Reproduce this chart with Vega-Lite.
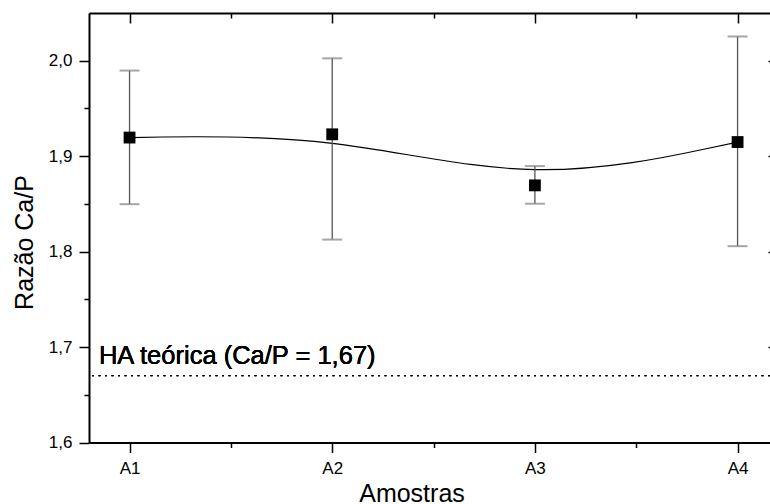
{
  "$schema": "https://vega.github.io/schema/vega-lite/v6.json",
  "autosize": {"type": "none"},
  "padding": {"left": 89, "top": 13, "right": 0, "bottom": 61.5},
  "width": 681,
  "height": 429.5,
  "background": "white",
  "config": {
    "view": {"stroke": null},
    "font": "Liberation Sans",
    "axis": {"grid": false, "domainColor": "black", "tickColor": "black", "labelColor": "black", "titleColor": "black", "labelFont": "Liberation Sans", "titleFont": "Liberation Sans", "titleFontWeight": "normal"}
  },
  "data": {
    "values": [
      {"amostra": 1, "razao": 1.9195, "lo": 1.8497, "hi": 1.9897},
      {"amostra": 2, "razao": 1.9229, "lo": 1.8126, "hi": 2.0025},
      {"amostra": 3, "razao": 1.8694, "lo": 1.8502, "hi": 1.8896},
      {"amostra": 4, "razao": 1.9148, "lo": 1.8057, "hi": 2.0254}
    ]
  },
  "resolve": {"axis": {"x": "independent", "y": "independent"}},
  "layer": [
    {
      "mark": {"type": "rule", "color": "black", "strokeWidth": 1, "strokeDash": [2, 4.5]},
      "encoding": {
        "y": {"datum": 1.67, "type": "quantitative", "scale": {"domain": [1.6, 2.05]}, "axis": null}
      }
    },
    {
      "mark": {"type": "line", "interpolate": "basis", "color": "black", "strokeWidth": 1.2},
      "encoding": {
        "x": {"field": "amostra", "type": "quantitative", "scale": {"domain": [0.8, 4.16], "nice": false, "zero": false},
          "axis": {"orient": "top", "title": null, "labels": false, "domainWidth": 2, "values": [1, 1.5, 2, 2.5, 3, 3.5, 4],
            "tickWidth": 1.5, "tickSize": {"condition": {"test": "datum.value % 1 != 0", "value": -5}, "value": -10}}},
        "y": {"field": "razao", "type": "quantitative", "scale": {"domain": [1.6, 2.05], "nice": false, "zero": false},
          "axis": {"orient": "right", "title": null, "labels": false, "domain": false, "values": [1.7, 1.8, 1.9, 2.0],
            "tickWidth": 1.5, "tickSize": -2}}
      }
    },
    {
      "mark": {"type": "rule", "color": "#555555", "strokeWidth": 1.3},
      "encoding": {
        "x": {"field": "amostra", "type": "quantitative", "axis": null},
        "y": {"field": "lo", "type": "quantitative", "axis": null},
        "y2": {"field": "hi"}
      }
    },
    {
      "mark": {"type": "tick", "orient": "horizontal", "color": "#808080", "size": 20, "thickness": 2},
      "encoding": {
        "x": {"field": "amostra", "type": "quantitative", "axis": null},
        "y": {"field": "lo", "type": "quantitative", "axis": null}
      }
    },
    {
      "mark": {"type": "tick", "orient": "horizontal", "color": "#808080", "size": 20, "thickness": 2},
      "encoding": {
        "x": {"field": "amostra", "type": "quantitative", "axis": null},
        "y": {"field": "hi", "type": "quantitative", "axis": null}
      }
    },
    {
      "mark": {"type": "point", "shape": "square", "filled": true, "color": "black", "size": 140, "opacity": 1},
      "encoding": {
        "x": {"field": "amostra", "type": "quantitative",
          "axis": {"orient": "bottom", "title": "Amostras", "titleFontSize": 25, "titleX": 322.5, "titleY": 59, "titleBaseline": "alphabetic", "titleAnchor": null, "titleAlign": "center",
            "values": [1, 1.5, 2, 2.5, 3, 3.5, 4], "domainWidth": 2, "tickWidth": 1.5,
            "tickSize": {"condition": {"test": "datum.value % 1 != 0", "value": 5}, "value": 10},
            "labelExpr": "datum.value % 1 == 0 ? 'A' + datum.value : ''", "labelFontSize": 17, "labelBaseline": "alphabetic", "labelPadding": 21}},
        "y": {"field": "razao", "type": "quantitative",
          "axis": {"orient": "left", "title": "Razão Ca/P", "titleFontSize": 25, "titleX": -57, "titleY": 229, "titleAngle": -90, "titleBaseline": "alphabetic", "titleAlign": "center", "titleAnchor": null,
            "values": [1.6, 1.65, 1.7, 1.75, 1.8, 1.85, 1.9, 1.95, 2.0], "domainWidth": 2, "tickWidth": 1.5,
            "tickSize": {"condition": {"test": "round(datum.value * 100) % 10 != 0", "value": 5}, "value": 10},
            "labelExpr": "round(datum.value * 100) % 10 == 0 ? replace(format(datum.value, '.1f'), '.', ',') : ''", "labelFontSize": 17, "labelPadding": 7}}
      }
    },
    {
      "mark": {"type": "text", "text": "HA teórica (Ca/P = 1,67)", "align": "left", "baseline": "alphabetic", "fontSize": 25.5, "font": "Liberation Sans", "color": "black"},
      "encoding": {
        "x": {"datum": 0.849, "type": "quantitative", "axis": null},
        "y": {"datum": 1.6826, "type": "quantitative", "axis": null}
      }
    }
  ]
}
